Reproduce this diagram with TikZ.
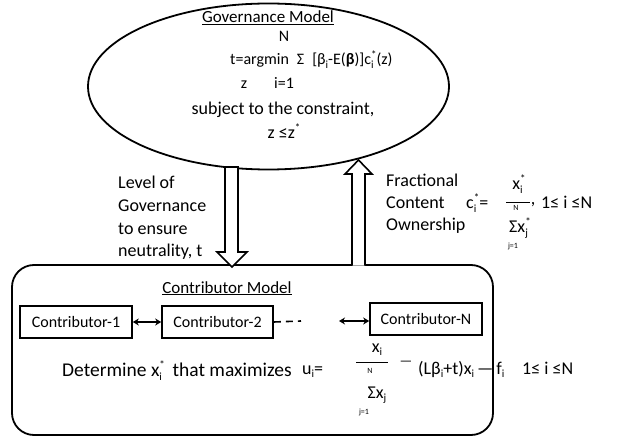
\documentclass[tikz,border=0pt]{standalone}
\usepackage{fontspec}
\setmainfont{Carlito}
\usetikzlibrary{shapes.geometric,arrows.meta}
\newcommand{\mysub}[1]{\raisebox{-0.45ex}{\fontsize{11}{11}\selectfont #1}}
\newcommand{\mysupr}[1]{\raisebox{0.85ex}{\fontsize{11}{11}\selectfont #1}}
\newcommand{\subsup}[2]{\rlap{\mysub{#1}}\mysupr{#2}}
\begin{document}
\begin{tikzpicture}[x=1pt,y=-1pt,
  txt/.style={inner sep=0pt,font=\fontsize{18}{22}\selectfont},
  midtxt/.style={inner sep=0pt,font=\fontsize{16}{19}\selectfont},
  bigtxt/.style={inner sep=0pt,font=\fontsize{19.5}{23}\selectfont},
  smalltxt/.style={inner sep=0pt,font=\fontsize{8}{8}\selectfont},
  box/.style={draw,line width=1.6pt,minimum height=32pt,inner sep=0pt,font=\fontsize{16}{19}\selectfont},
  blockarrow/.style={draw,line width=1.6pt,fill=white,line join=miter},
  link/.style={line width=1.6pt,{Stealth[length=6pt,width=7pt]}-{Stealth[length=6pt,width=7pt]}}
]
\useasboundingbox (0,0) rectangle (631,438);
% Governance ellipse
\node[ellipse,draw,line width=1.8pt,minimum width=361pt,minimum height=166pt,inner sep=0pt] (gov) at (268.5,86.5) {};
\node[txt,font=\fontsize{17}{20}\selectfont,anchor=base] (govtitle) at (268,23) {\underline{Governance Model}};
\node[midtxt,anchor=base] (govN) at (284,42) {N};
\node[midtxt,anchor=base west] (goveq) at (230,65) {t=argmin\,\,\,Σ\,\,\,[β\mysub{i}-E(\textbf{β})]c\subsup{i}{*}(z)};
\node[midtxt,anchor=base] (govz) at (244,89) {z};
\node[midtxt,anchor=base] (govi) at (284,89) {i=1};
\node[txt,anchor=base] (govsub) at (283,115) {subject to the constraint,};
\node[txt,anchor=base] (govc) at (284,139) {z ≤z\mysupr{*}};
% Contributor model
\node[draw,line width=1.8pt,rounded corners=22pt,minimum width=481pt,minimum height=170pt] (cm) at (252.5,350) {};
\node[txt,font=\fontsize{17}{20}\selectfont,anchor=base] (cmtitle) at (227,293) {\underline{Contributor Model}};
\node[box,minimum width=112pt] (c1) at (76,322) {Contributor-1};
\node[box,minimum width=111pt] (c2) at (217.5,322) {Contributor-2};
\node[box,minimum width=112pt] (cn) at (426,319) {Contributor-N};
\coordinate (dashend) at (301,321);
\coordinate (nstart) at (339,321);
\draw[link] (c1.east) -- (c2.west);
\draw[line width=1.6pt,dash pattern=on 7pt off 5pt] (c2.east) -- (dashend);
\draw[link] (nstart) -- (nstart -| cn.west);
% block arrows
\draw[blockarrow] (225,167) -- (225,252) -- (217,252) -- (232,267) -- (247,252) -- (238,252) -- (238,167) -- cycle;
\draw[blockarrow] (352,265.5) -- (352,174) -- (345,174) -- (358.5,160) -- (372,174) -- (365,174) -- (365,265.5);
% left label
\node[txt,anchor=base west] (lvl1) at (118,189) {Level of};
\node[txt,anchor=base west] (lvl2) at (118,211.5) {Governance};
\node[txt,anchor=base west] (lvl3) at (118,234) {to ensure};
\node[txt,anchor=base west] (lvl4) at (118,256.5) {neutrality, t};
% right label
\node[txt,anchor=base west] (fr1) at (386,187) {Fractional};
\node[txt,anchor=base west] (fr2) at (386,209) {Content};
\node[txt,anchor=base west] (fr3) at (386,231) {Ownership};
\node[txt,anchor=base west] (ceq) at (466,209) {c\subsup{i}{*}=};
\node[txt,anchor=base] (cnum) at (519,190) {x\subsup{i}{*}};
\coordinate (cl1) at (506,202);
\coordinate (cl2) at (530,202);
\draw[line width=0.6pt] (cl1) -- (cl2);
\node[smalltxt] (cN) at (516,208) {N};
\node[txt,anchor=base] (ccomma) at (533,205) {,};
\node[txt,anchor=base west] (crange) at (541,209) {1≤ i ≤N};
\node[txt,anchor=base] (cden) at (520,233) {Σx\subsup{j}{*}};
\node[smalltxt] (cj) at (513,246) {j=1};
% utility
\node[bigtxt,anchor=base west] (det) at (62,376) {Determine x\subsup{i}{*}\, that maximizes};
\node[txt,anchor=base west] (ueq) at (302,374) {u\mysub{i}=};
\node[txt,anchor=base] (unum) at (377,352) {x\mysub{i}};
\coordinate (ul1) at (356,362);
\coordinate (ul2) at (388,362);
\draw[line width=0.6pt] (ul1) -- (ul2);
\node[smalltxt] (uN) at (370,371) {N};
\node[txt,font=\fontsize{14}{14}\selectfont] (udash) at (406,363) {—};
\node[txt,anchor=base west] (uterm) at (418,374) {(Lβ\mysub{i}+t)x\mysub{i}\,—\,f\mysub{i}};
\node[txt,anchor=base west] (urange) at (522,374) {1≤ i ≤N};
\node[txt,anchor=base] (uden) at (377,398) {Σx\mysub{j}};
\node[smalltxt] (uj) at (364,412) {j=1};
\end{tikzpicture}
\end{document}
